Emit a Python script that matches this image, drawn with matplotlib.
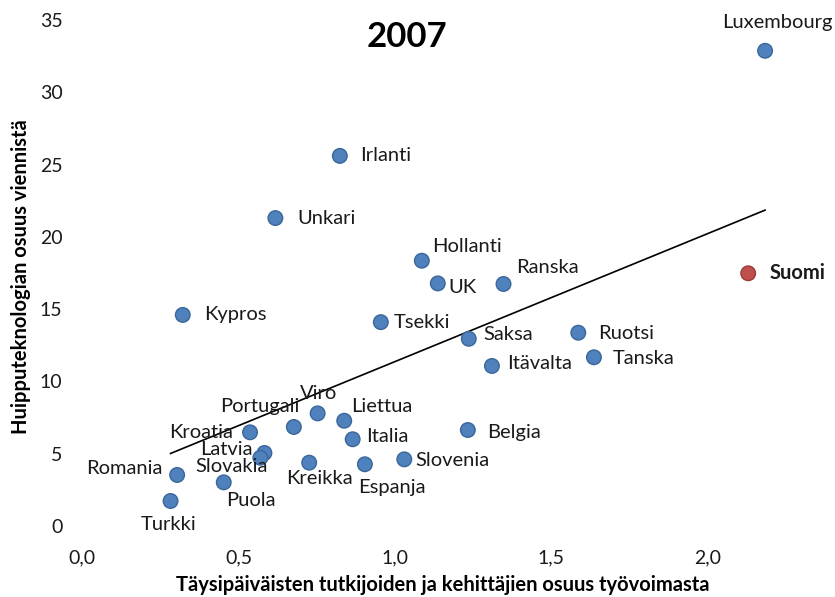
import numpy as np
import matplotlib
matplotlib.use('Agg')
import matplotlib.pyplot as plt

plt.rcParams['font.family'] = ['Lato', 'DejaVu Sans']

# Data (2007)
countries = [
    'Luxembourg', 'Suomi', 'Irlanti', 'Unkari', 'Hollanti', 'UK', 'Ranska',
    'Kypros', 'Tsekki', 'Saksa', 'Ruotsi', 'Tanska', 'Itävalta', 'Viro',
    'Liettua', 'Portugali', 'Kroatia', 'Italia', 'Belgia', 'Latvia',
    'Slovakia', 'Kreikka', 'Espanja', 'Slovenia', 'Romania', 'Puola', 'Turkki',
]
researchers = [
    2.183, 2.129, 0.824, 0.618, 1.086, 1.137, 1.347,
    0.322, 0.955, 1.236, 1.586, 1.636, 1.310, 0.753,
    0.838, 0.677, 0.537, 0.865, 1.233, 0.583,
    0.570, 0.726, 0.904, 1.030, 0.304, 0.453, 0.283,
]
hightech = [
    32.87, 17.48, 25.6, 21.3, 18.35, 16.78, 16.74,
    14.6, 14.1, 12.95, 13.37, 11.67, 11.07, 7.79,
    7.28, 6.85, 6.48, 6.0, 6.64, 5.05,
    4.72, 4.38, 4.27, 4.61, 3.53, 3.02, 1.73,
]
highlight = 'Suomi'
x_ticks = [0.0, 0.5, 1.0, 1.5, 2.0]
y_ticks = [0, 5, 10, 15, 20, 25, 30, 35]

# label placement: (dx, dy) in pixels, horizontal alignment
label_pos = {
    'Luxembourg': (12, 28, 'center'),
    'Suomi': (21, 0, 'left'),
    'Irlanti': (20, 0, 'left'),
    'Unkari': (22, 0, 'left'),
    'Hollanti': (10, 14, 'left'),
    'UK': (11, -4, 'left'),
    'Ranska': (13, 16, 'left'),
    'Kypros': (21, 0, 'left'),
    'Tsekki': (13, 0, 'left'),
    'Saksa': (15, 4, 'left'),
    'Ruotsi': (20, -1, 'left'),
    'Tanska': (19, -1, 'left'),
    'Itävalta': (15, 2, 'left'),
    'Viro': (1, 20, 'center'),
    'Liettua': (7, 14, 'left'),
    'Portugali': (6, 20, 'right'),
    'Kroatia': (-17, 0, 'right'),
    'Italia': (13, 3, 'left'),
    'Belgia': (19, -2, 'left'),
    'Latvia': (-12, 3, 'right'),
    'Slovakia': (7, -9, 'right'),
    'Kreikka': (10, -16, 'center'),
    'Espanja': (-7, -23, 'left'),
    'Slovenia': (11, -1, 'left'),
    'Romania': (-15, 6, 'right'),
    'Puola': (2, -18, 'left'),
    'Turkki': (-2, -24, 'center'),
}

x = np.array(researchers)
y = np.array(hightech)

fig = plt.figure(figsize=(8.35, 5.97), dpi=100)
ax = fig.add_axes([82 / 835, 71 / 597, 751 / 835, 506 / 597])

colors = ['#C0504D' if c == highlight else '#4F81BD' for c in countries]
edges = ['#9B3B38' if c == highlight else '#3A6699' for c in countries]
ax.scatter(x, y, s=110, c=colors, edgecolors=edges, linewidths=1.0, zorder=3)

# linear trend line over the data range
k, b = np.polyfit(x, y, 1)
xs = np.array([x.min(), x.max()])
ax.plot(xs, k * xs + b, color='black', lw=1.2, zorder=2)

for c, xi, yi in zip(countries, x, y):
    dx, dy, ha = label_pos[c]
    ax.annotate(c, (xi, yi), xytext=(dx, dy), textcoords='offset pixels',
                ha=ha, va='center', fontsize=14.5, color='#1a1a1a',
                fontweight='bold' if c == highlight else 'normal',
                annotation_clip=False, zorder=4)

ax.set_xlim(0, 2.4)
ax.set_ylim(0, 35)
ax.set_xticks(x_ticks)
ax.set_xticklabels([f'{t:.1f}'.replace('.', ',') for t in x_ticks])
ax.set_yticks(y_ticks)
ax.tick_params(length=0, labelsize=14, colors='#1a1a1a')
ax.tick_params(axis='y', pad=14)
ax.tick_params(axis='x', pad=17)
for s in ax.spines.values():
    s.set_visible(False)

ax.set_xlabel('Täysipäiväisten tutkijoiden ja kehittäjien osuus työvoimasta',
              fontsize=14.5, fontweight='bold', va='center')
ax.xaxis.set_label_coords((443 - 82) / 751, -(585 - 526) / 506)
ax.set_ylabel('Huipputeknologian osuus viennistä', fontsize=14.5,
              fontweight='bold', va='center')
ax.yaxis.set_label_coords(-(82 - 21) / 751, (526 - 277) / 506)

fig.text(407 / 835, 1 - 37 / 597, '2007', ha='center', va='center',
         fontsize=25, fontweight='bold')

fig.savefig('out.png', dpi=100)
